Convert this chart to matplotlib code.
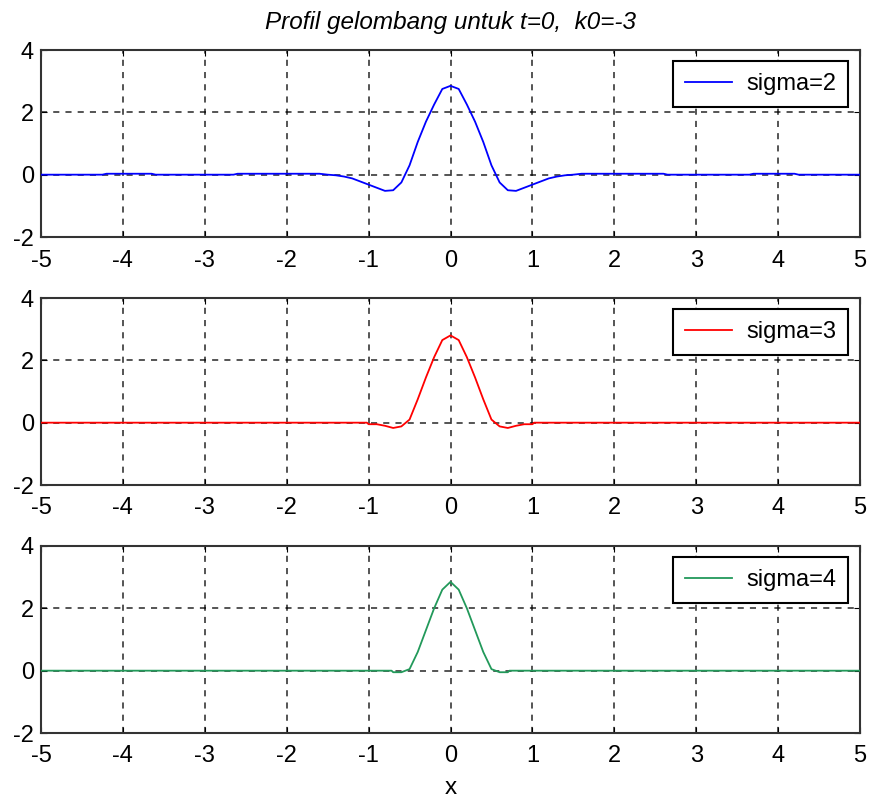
import matplotlib
matplotlib.use("Agg")
import matplotlib.pyplot as plt

plt.rcParams['font.family'] = ['Liberation Sans', 'DejaVu Sans']
plt.rcParams['axes.unicode_minus'] = False

# ---- data ----
x_s2 = [-5.0, -4.25, -4.2, -3.65, -3.6, -2.65, -2.6, -1.6, -1.5, -1.4, -1.3, -1.2, -1.1,
        -1.0, -0.9, -0.8, -0.7, -0.6, -0.5, -0.4, -0.3, -0.2, -0.1, 0.0,
        0.1, 0.2, 0.3, 0.4, 0.5, 0.6, 0.7, 0.8, 0.9, 1.0, 1.1, 1.2, 1.3, 1.4, 1.5,
        1.6, 2.6, 2.65, 3.65, 3.7, 4.2, 4.25, 5.0]
y_s2 = [0.0, 0.0, 0.03, 0.03, 0.0, 0.0, 0.03, 0.03, 0.0, -0.02, -0.06, -0.12, -0.22,
        -0.32, -0.42, -0.52, -0.50, -0.25, 0.30, 1.05, 1.70, 2.25, 2.75, 2.85,
        2.75, 2.25, 1.70, 1.05, 0.30, -0.25, -0.50, -0.52, -0.42, -0.32, -0.22, -0.12, -0.06, -0.02, 0.0,
        0.03, 0.03, 0.0, 0.0, 0.03, 0.03, 0.0, 0.0]

x_s3 = [-5.0, -1.02, -1.0, -0.9, -0.8, -0.7, -0.6, -0.5, -0.4, -0.3, -0.2, -0.1, 0.0,
        0.1, 0.2, 0.3, 0.4, 0.5, 0.6, 0.7, 0.8, 0.9, 1.0, 1.02, 5.0]
y_s3 = [0.0, 0.0, -0.05, -0.05, -0.10, -0.17, -0.12, 0.10, 0.75, 1.45, 2.10, 2.65, 2.80,
        2.65, 2.10, 1.45, 0.75, 0.10, -0.12, -0.17, -0.10, -0.05, -0.05, 0.0, 0.0]

x_s4 = [-5.0, -0.72, -0.7, -0.6, -0.5, -0.4, -0.3, -0.2, -0.1, 0.0,
        0.1, 0.2, 0.3, 0.4, 0.5, 0.6, 0.7, 0.72, 5.0]
y_s4 = [0.0, 0.0, -0.05, -0.05, 0.05, 0.60, 1.30, 2.00, 2.60, 2.85,
        2.60, 2.00, 1.30, 0.60, 0.05, -0.05, -0.05, 0.0, 0.0]

series = [(x_s2, y_s2, 'sigma=2', '#0000ff'),
          (x_s3, y_s3, 'sigma=3', '#ff0000'),
          (x_s4, y_s4, 'sigma=4', '#22995a')]

xticks = [-5, -4, -3, -2, -1, 0, 1, 2, 3, 4, 5]
yticks = [-2, 0, 2, 4]
title = 'Profil gelombang untuk t=0,  k0=-3'

fig = plt.figure(figsize=(8.69, 8.02), dpi=100)
left, width = 41/869, (860-41)/869
tops = [50, 298, 546]
h = 187/802

for i, (xs, ys, lab, col) in enumerate(series):
    ax = fig.add_axes([left, 1 - (tops[i] + 187)/802, width, h])
    ax.plot(xs, ys, color=col, lw=1.3, label=lab, zorder=3)
    ax.set_xlim(-5, 5)
    ax.set_ylim(-2, 4)
    ax.set_xticks(xticks)
    ax.set_yticks(yticks)
    ax.grid(True, color='black', linestyle=(0, (4, 4)), linewidth=1.1, alpha=0.85)
    ax.tick_params(direction='in', length=4, labelsize=17, top=True, right=True)
    ax.tick_params(axis='x', pad=9)
    ax.tick_params(axis='y', pad=5)
    for s in ax.spines.values():
        s.set_linewidth(1.5)
        s.set_color('#333333')
    leg = ax.legend(loc='upper right', bbox_to_anchor=(0.985, 0.94), fontsize=17,
                    fancybox=False, framealpha=1, edgecolor='black', handlelength=2.0,
                    handletextpad=0.6, borderpad=0.5, borderaxespad=0)
    leg.get_frame().set_linewidth(1.5)
    if i == 0:
        ax.set_title(title, fontsize=17.5, style='italic', pad=15)
    if i == 2:
        ax.set_xlabel('x', fontsize=17.5, labelpad=7)

fig.savefig('out.png', dpi=100, facecolor='white')
